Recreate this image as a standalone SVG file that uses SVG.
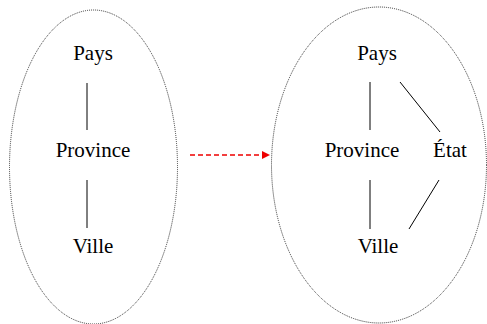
<svg xmlns="http://www.w3.org/2000/svg" width="487" height="324" viewBox="0 0 487 324">
  <style>
    .hull { fill: none; stroke: #333; stroke-width: 1; stroke-dasharray: 1 1; }
    .label { font-family: "Liberation Serif", "Times New Roman", serif; font-size: 21px; fill: #000; text-anchor: middle; }
    .edge { stroke: #000; stroke-width: 1; fill: none; }
    .transform { stroke: #e00; stroke-width: 1.3; stroke-dasharray: 5 3; fill: none; }
  </style>
  <defs>
    <marker id="arrow" markerWidth="8" markerHeight="8" refX="7" refY="4" orient="auto" markerUnits="userSpaceOnUse">
      <path d="M0,0 L8,4 L0,8 z" fill="#e00"/>
    </marker>
  </defs>
  <rect width="487" height="324" fill="#fff"/>

  <!-- left hierarchy -->
  <g id="hierarchy-left">
    <ellipse class="hull" cx="93.5" cy="167" rx="84" ry="157"/>
  </g>
  <g id="left-pays"><text class="label" x="93" y="60">Pays</text></g>
  <g id="left-province"><text class="label" x="93" y="157">Province</text></g>
  <g id="left-ville"><text class="label" x="93" y="253">Ville</text></g>

  <!-- right hierarchy -->
  <g id="hierarchy-right">
    <ellipse class="hull" cx="379" cy="165" rx="107.5" ry="158"/>
  </g>
  <g id="right-pays"><text class="label" x="377" y="60">Pays</text></g>
  <g id="right-province"><text class="label" x="362" y="157">Province</text></g>
  <g id="right-etat"><text class="label" x="450" y="157">État</text></g>
  <g id="right-ville"><text class="label" x="378" y="253">Ville</text></g>

  <!-- connectors -->
  <g id="connectors">
    <line class="edge" x1="87" y1="83" x2="87" y2="130"/>
    <line class="edge" x1="87" y1="180" x2="87" y2="228"/>
    <line class="edge" x1="370" y1="82" x2="370" y2="130"/>
    <line class="edge" x1="370" y1="180" x2="370" y2="229"/>
    <line class="edge" x1="400" y1="82" x2="440" y2="132"/>
    <line class="edge" x1="439" y1="180" x2="409" y2="229"/>
    <line class="transform" x1="190" y1="155" x2="269" y2="155" marker-end="url(#arrow)"/>
  </g>
</svg>
